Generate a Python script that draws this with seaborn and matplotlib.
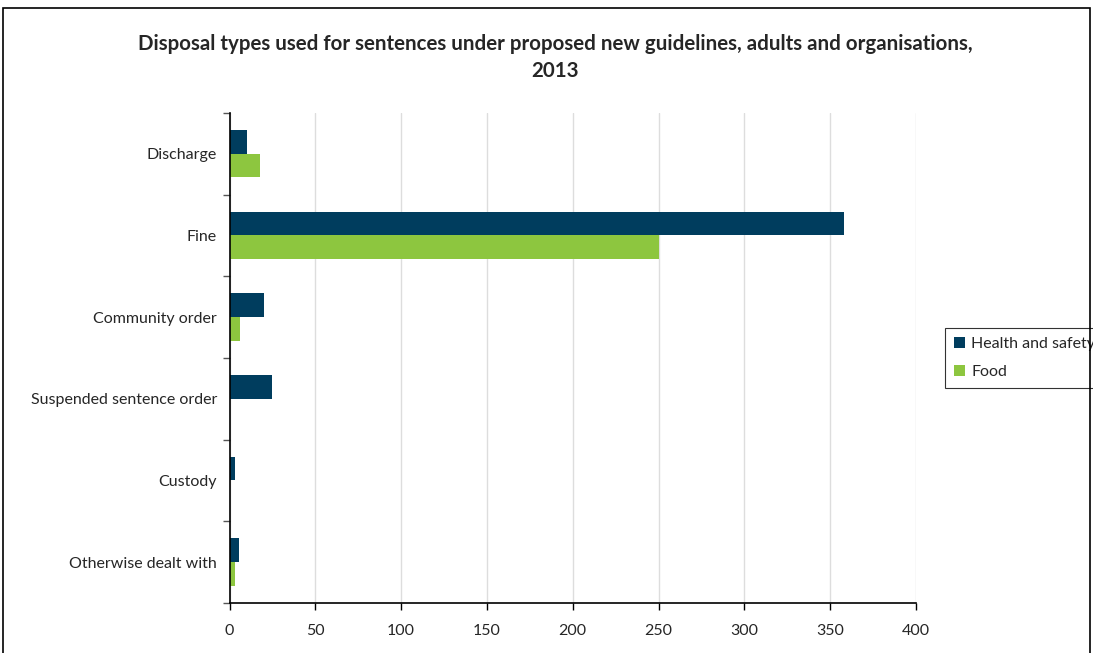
import pandas as pd
import seaborn as sns
import matplotlib.pyplot as plt
from matplotlib.patches import Rectangle
from matplotlib.ticker import FixedLocator

categories = ["Discharge", "Fine", "Community order", "Suspended sentence order",
              "Custody", "Otherwise dealt with"]
health_safety = [10, 358, 20, 25, 3, 5.5]
food = [18, 250, 6, 0, 0, 3]
series_names = ["Health and safety", "Food"]
colors = ["#003d5e", "#8dc63f"]
title = "Disposal types used for sentences under proposed new guidelines, adults and organisations,\n2013"

sns.set_style("white")
plt.rcParams["font.family"] = ["Lato", "DejaVu Sans"]

df = pd.DataFrame({
    "Disposal": categories * 2,
    "Value": health_safety + food,
    "Type": [series_names[0]] * len(categories) + [series_names[1]] * len(categories),
})

fig = plt.figure(figsize=(10.93, 6.53), dpi=100)
ax = fig.add_axes([0.21, 0.0766, 0.628, 0.7504])

sns.barplot(data=df, y="Disposal", x="Value", hue="Type", order=categories,
            hue_order=series_names, palette=colors, width=0.58, orient="h",
            saturation=1, linewidth=0, ax=ax)

ax.set_xlim(0, 400)
ax.set_xticks(range(0, 401, 50))
ax.set_ylim(len(categories) - 0.5, -0.5)
ax.xaxis.grid(True, color="#dddddd", linewidth=1)
ax.set_axisbelow(True)
ax.set_xlabel("")
ax.set_ylabel("")

for side in ["top", "right"]:
    ax.spines[side].set_visible(False)
for side in ["left", "bottom"]:
    ax.spines[side].set_color("black")
    ax.spines[side].set_linewidth(1.2)

ax.tick_params(axis="x", which="major", direction="out", length=5, width=1,
               color="black", labelsize=11.5, pad=10, bottom=True)
ax.tick_params(axis="y", which="major", length=0, labelsize=11.5, pad=9)
ax.yaxis.set_minor_locator(FixedLocator([i - 0.5 for i in range(len(categories) + 1)]))
ax.tick_params(axis="y", which="minor", direction="out", length=5, width=1,
               color="#555555", left=True)

leg = ax.legend(loc="center left", bbox_to_anchor=(1.042, 0.5), frameon=True,
                fancybox=False, edgecolor="black", fontsize=11.5, handlelength=0.7,
                handleheight=0.7, handletextpad=0.4, borderpad=0.55, labelspacing=0.85,
                borderaxespad=0)
leg.get_frame().set_linewidth(0.8)

fig.text(0.508, 0.912, title, ha="center", va="center", fontsize=14.8,
         fontweight="bold", linespacing=1.45)

fig.patches.append(Rectangle((0.003, -0.05), 0.994, 1.038, transform=fig.transFigure,
                             fill=False, edgecolor="black", linewidth=1.2))

plt.savefig("out.png", dpi=100)
